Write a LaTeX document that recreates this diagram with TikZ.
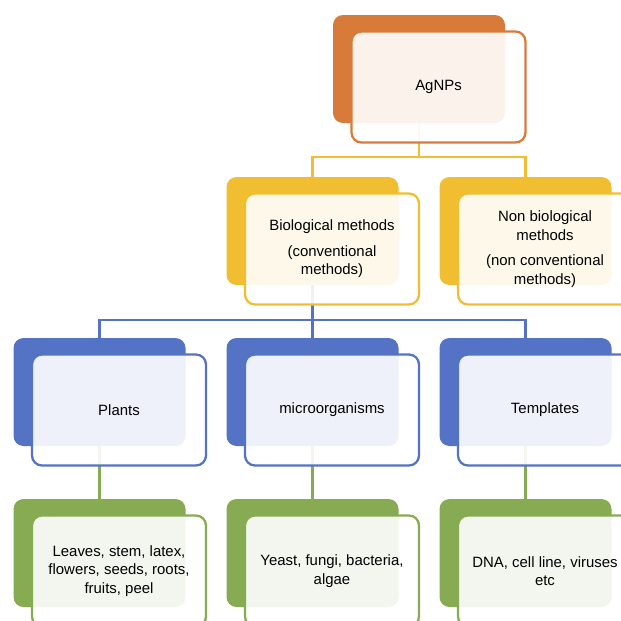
\documentclass[tikz,border=0pt]{standalone}
\usepackage{fontspec}
\setmainfont{Liberation Sans}
\usetikzlibrary{calc,positioning}
\definecolor{agorange}{RGB}{216,123,58}
\definecolor{agyellow}{RGB}{240,190,48}
\definecolor{agblue}{RGB}{84,115,196}
\definecolor{aggreen}{RGB}{135,171,82}
\newcommand{\boxfont}{\fontsize{11.2pt}{14pt}\selectfont\hyphenpenalty=10000\relax}
\tikzset{
    %Define style for the coloured back boxes
    back/.style={
           rectangle,
           rounded corners=7.5pt,
           draw=none,
           fill=#1,
           minimum width=129pt,
           minimum height=81pt},
    %Define style for the text boxes in front
    front/.style={
           rectangle,
           rounded corners=7.5pt,
           draw=#1, line width=1.7pt,
           fill=white, fill opacity=0.9, text opacity=1,
           minimum width=130.5pt,
           minimum height=83.25pt,
           text width=115pt,
           align=flush center,
           font=\boxfont},
    % Define connector style
    link/.style={
           draw=#1,
           line width=1.7pt}
}
\begin{document}
\begin{tikzpicture}[x=0.75pt,y=-0.75pt]
\useasboundingbox (0,0) rectangle (621,621);
\clip (0,0) rectangle (621,621);
% back boxes
\node[back=agorange](agnps-b) at (419,69){};
\node[back=agyellow](bio-b) at (312.5,231){};
\node[back=agyellow](nonbio-b) at (525.5,231){};
\node[back=agblue](plants-b) at (99.5,392){};
\node[back=agblue](micro-b) at (312.5,392){};
\node[back=agblue](templ-b) at (525.5,392){};
\node[back=aggreen](leaves-b) at (99.5,553){};
\node[back=aggreen](yeast-b) at (312.5,553){};
\node[back=aggreen](dna-b) at (525.5,553){};
% connectors
\coordinate (j1) at (agnps-b.south |- 0,157);
\coordinate (j2) at (bio-b.south |- 0,320);
\draw[link=agyellow] (agnps-b.south) -- (j1) -| (bio-b.north);
\draw[link=agyellow] (j1) -| (nonbio-b.north);
\draw[link=agblue] (bio-b.south) -- (j2) -| (plants-b.north);
\draw[link=agblue] (j2) -- (micro-b.north);
\draw[link=agblue] (j2) -| (templ-b.north);
\draw[link=aggreen] (plants-b.south) -- (leaves-b.north);
\draw[link=aggreen] (micro-b.south) -- (yeast-b.north);
\draw[link=aggreen] (templ-b.south) -- (dna-b.north);
% front boxes
\node[front=agorange](agnps) at ($(agnps-b)+(19.5,18)$){AgNPs};
\node[front=agyellow](bio) at ($(bio-b)+(19.5,18)$){Biological methods\\[5pt](conventional methods)};
\node[front=agyellow](nonbio) at ($(nonbio-b)+(19.5,18)$){Non biological methods\\[5pt](non conventional methods)};
\node[front=agblue](plants) at ($(plants-b)+(19.5,18)$){Plants};
\node[front=agblue](micro) at ($(micro-b)+(19.5,18)$){microorganisms};
\node[front=agblue](templ) at ($(templ-b)+(19.5,18)$){Templates};
\node[front=aggreen](leaves) at ($(leaves-b)+(19.5,18)$){Leaves, stem, latex, flowers, seeds, roots, fruits, peel};
\node[front=aggreen](yeast) at ($(yeast-b)+(19.5,18)$){Yeast, fungi, bacteria, algae};
\node[front=aggreen](dna) at ($(dna-b)+(19.5,18)$){DNA, cell line, viruses etc};
\end{tikzpicture}
\end{document}
